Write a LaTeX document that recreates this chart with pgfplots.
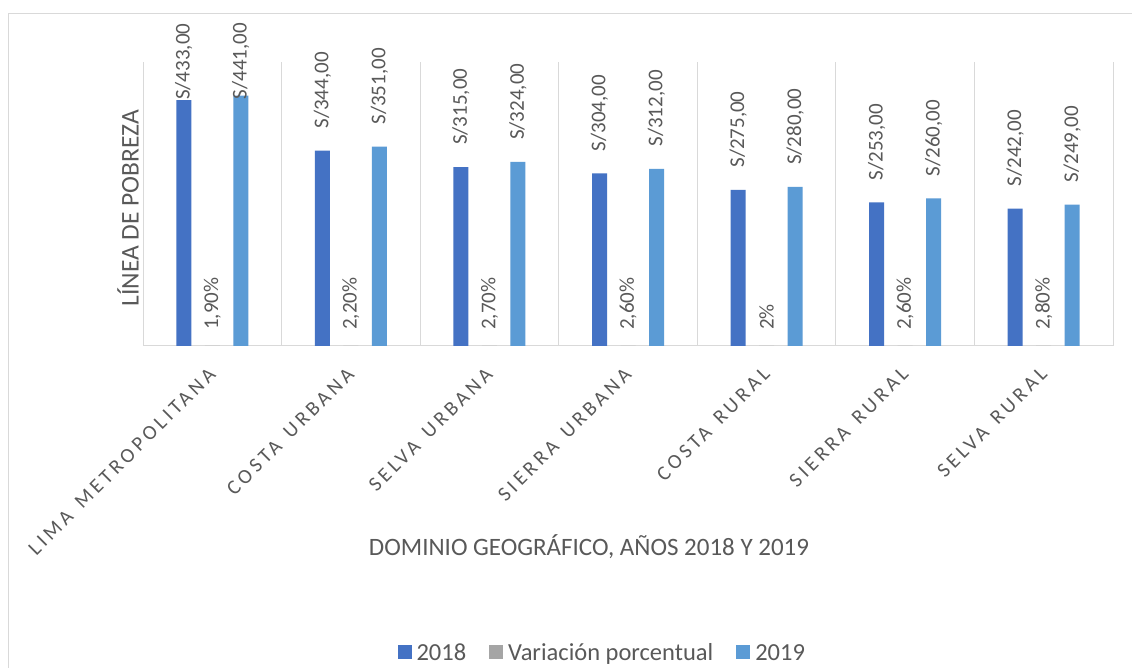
\documentclass[border=0pt]{standalone}
\usepackage{pgfplots}
\pgfplotsset{compat=1.18}
\usepackage{pgfplotstable}
\usepackage{fontspec}
\setmainfont{Carlito}
\newfontfamily\tickfont[LetterSpace=18]{Carlito}
\definecolor{c18}{HTML}{4472C4}
\definecolor{c19}{HTML}{5B9BD5}
\definecolor{cvar}{HTML}{A5A5A5}
\definecolor{txt}{HTML}{595959}
\definecolor{gridc}{HTML}{D9D9D9}
\newcommand{\ws}{\hspace{0.55em}}

\pgfplotstableread{
x y lab off
0 433 {S/433,00} 0
1 344 {S/344,00} 22
2 315 {S/315,00} 22
3 304 {S/304,00} 22
4 275 {S/275,00} 22
5 253 {S/253,00} 22
6 242 {S/242,00} 22
}\tabA
\pgfplotstableread{
x y lab off
0 0.019 {1,90\%} 16
1 0.022 {2,20\%} 16
2 0.027 {2,70\%} 16
3 0.026 {2,60\%} 16
4 0.020 {2\%} 16
5 0.026 {2,60\%} 16
6 0.028 {2,80\%} 16
}\tabB
\pgfplotstableread{
x y lab off
0 441 {S/441,00} -4
1 351 {S/351,00} 22
2 324 {S/324,00} 22
3 312 {S/312,00} 22
4 280 {S/280,00} 22
5 260 {S/260,00} 22
6 249 {S/249,00} 22
}\tabC

\pgfplotsset{
  sqleg/.style={legend image code/.code={\path[##1, draw=none] (0pt,-6pt) rectangle (14pt,8pt);}},
  lbl/.style={point meta=explicit symbolic, nodes near coords,
    visualization depends on={\thisrow{off} \as \off},
    nodes near coords style={xshift=#1, yshift=\off pt, rotate=90, anchor=west, inner sep=0pt,
      font=\fontsize{21}{25}\selectfont, text=txt}},
}

\begin{document}
\begin{tikzpicture}
\path[use as bounding box] (0pt,0pt) rectangle (1132pt,668pt);
\fill[white] (0pt,0pt) rectangle (1132pt,668pt);
\draw[gridc, line width=1pt] (8pt,-20pt) rectangle (1150pt,654pt);
\begin{axis}[
  at={(143pt,322pt)}, anchor=south west,
  width=970pt, height=284pt, scale only axis,
  xmin=-0.5, xmax=6.5, ymin=0, ymax=500,
  axis lines*=left,
  axis line style={draw=gridc, line width=1pt},
  ytick=\empty,
  xtick={0,...,6},
  xticklabels={LIMA\ws METROPOLITANA, COSTA\ws URBANA, SELVA\ws URBANA, SIERRA\ws URBANA, COSTA\ws RURAL, SIERRA\ws RURAL, SELVA\ws RURAL},
  major tick length=0pt,
  xtick style={draw=none},
  xticklabel style={xshift=-5pt, yshift=-20pt, rotate=45, anchor=north east, inner sep=0pt,
    font=\tickfont\fontsize{20.5}{24}\selectfont, text=txt},
  extra x ticks={-0.5,0.5,...,6.5},
  extra x tick labels={},
  extra x tick style={grid=major},
  major grid style={draw=gridc, line width=1pt},
  ylabel={LÍNEA DE POBREZA},
  ylabel style={at={(axis description cs:-0.0155,0.486)}, anchor=center, rotate=0,
    font=\fontsize{25.5}{30}\selectfont, text=txt},
  xlabel={DOMINIO GEOGRÁFICO, AÑOS 2018 Y 2019},
  xlabel style={at={(axis description cs:0.4598,-0.708)}, anchor=center,
    font=\fontsize{25}{30}\selectfont, text=txt},
  clip=false,
  legend style={at={(axis description cs:0.475,-1.081)}, anchor=center, draw=none, fill=none,
    legend columns=-1, font=\fontsize{24.5}{29}\selectfont, text=txt,
    nodes={inner xsep=5pt, inner ysep=1pt},
    /tikz/every even column/.append style={column sep=18pt}},
]
\addplot[ybar, bar width=15pt, bar shift=-28.5pt, fill=c18, draw=none, sqleg, lbl=-28.5pt]
  table[x=x, y=y, meta=lab]{\tabA};
\addplot[ybar, bar width=15pt, bar shift=0pt, fill=cvar, draw=none, sqleg, lbl=0pt]
  table[x=x, y=y, meta=lab]{\tabB};
\addplot[ybar, bar width=15pt, bar shift=28.5pt, fill=c19, draw=none, sqleg, lbl=28.5pt]
  table[x=x, y=y, meta=lab]{\tabC};
\legend{2018, Variación porcentual, 2019}
\end{axis}
\end{tikzpicture}
\end{document}
